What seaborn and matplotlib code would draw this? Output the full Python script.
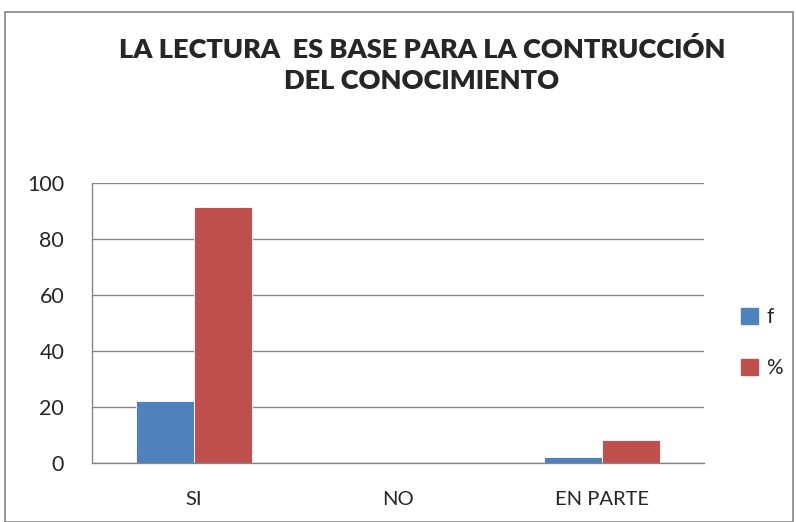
import numpy as np
import pandas as pd
import matplotlib.pyplot as plt
import matplotlib.patches as mpatches
import seaborn as sns

# Data
categories = ['SI', 'NO', 'EN PARTE']
f_values = [22, 0, 2]
pct_values = [91.67, 0, 8.33]
series_names = ['f', '%']
colors = ['#4F81BD', '#C0504D']

df = pd.DataFrame({
    'cat': categories * 2,
    'serie': [series_names[0]] * 3 + [series_names[1]] * 3,
    'valor': f_values + pct_values,
})

sns.set_style('white')
plt.rcParams['font.family'] = ['Lato', 'DejaVu Sans']

fig = plt.figure(figsize=(7.96, 5.22), dpi=100)
ax = fig.add_axes([0.1156, 0.113, 0.7688, 0.536])

sns.barplot(data=df, x='cat', y='valor', hue='serie', palette=colors,
            width=0.567, dodge=True, ax=ax, saturation=1, errorbar=None,
            edgecolor='white', linewidth=0.6)

ax.set_ylim(0, 100)
ax.set_yticks(range(0, 101, 20))
ax.set_xlim(-0.5, 2.5)
ax.grid(axis='y', color='#868686', linewidth=1)
ax.set_axisbelow(True)
for s in ['top', 'right']:
    ax.spines[s].set_visible(False)
for s in ['left', 'bottom']:
    ax.spines[s].set_color('#868686')
    ax.spines[s].set_linewidth(1)
ax.set_xlabel('')
ax.set_ylabel('')
ax.tick_params(axis='y', labelsize=15.5, length=0, pad=20)
ax.tick_params(axis='x', labelsize=14.5, length=0, pad=20)

handles = [mpatches.Patch(color=c, label=n) for c, n in zip(colors, series_names)]
ax.legend(handles=handles, loc='center left', bbox_to_anchor=(1.03, 0.43),
          frameon=False, fontsize=15, handlelength=0.8, handleheight=0.8,
          handletextpad=0.4, labelspacing=1.5)

fig.text(0.53, 0.93, 'LA LECTURA  ES BASE PARA LA CONTRUCCIÓN\nDEL CONOCIMIENTO',
         ha='center', va='top', fontsize=19.5, fontweight='heavy', linespacing=1.35)

fig.patches.append(mpatches.Rectangle((0.006, 0.0), 0.99, 0.977, transform=fig.transFigure,
                                      fill=False, edgecolor='#868686', linewidth=1.2))

plt.savefig('out.png', dpi=100)
